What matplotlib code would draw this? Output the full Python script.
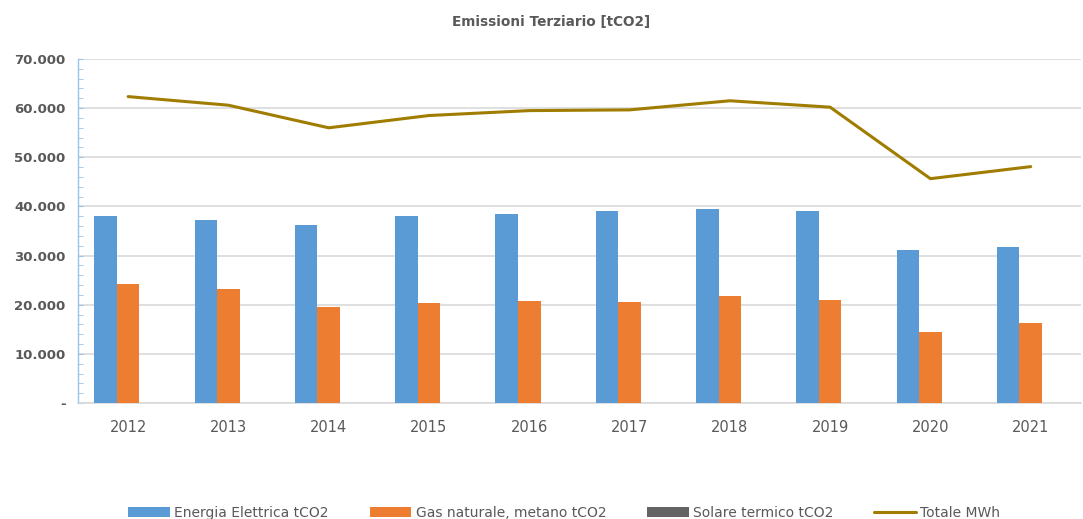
import numpy as np
import matplotlib
matplotlib.use("Agg")
import matplotlib.pyplot as plt
from matplotlib.ticker import MultipleLocator, FuncFormatter

# data
anni = ["2012", "2013", "2014", "2015", "2016", "2017", "2018", "2019", "2020", "2021"]
energia_elettrica = [38100, 37200, 36200, 38000, 38400, 39050, 39500, 39050, 31150, 31750]
gas_naturale = [24250, 23200, 19550, 20350, 20750, 20550, 21800, 20950, 14450, 16300]
solare_termico = [0, 0, 0, 0, 0, 0, 0, 0, 0, 0]
totale = [62350, 60600, 56000, 58500, 59500, 59650, 61500, 60200, 45650, 48100]

serie_nomi = ["Energia Elettrica tCO2", "Gas naturale, metano tCO2",
              "Solare termico tCO2", "Totale MWh"]
colori = ["#5b9bd5", "#ed7d31", "#636363", "#a07d00"]

fig = plt.figure(figsize=(10.83, 5.19), dpi=100)
ax = fig.add_axes([0.072, 0.2235, 0.926, 0.6628])

x = np.arange(len(anni))
w = 0.225
b1 = ax.bar(x - w, energia_elettrica, w, color=colori[0], zorder=3)
b2 = ax.bar(x, gas_naturale, w, color=colori[1], zorder=3)
b3 = ax.bar(x + w, solare_termico, w, color=colori[2], zorder=3)
l1, = ax.plot(x, totale, color=colori[3], lw=2.2, zorder=4,
              solid_capstyle="round", solid_joinstyle="round")

ax.set_xlim(-0.5, len(anni) - 0.5)
ax.set_ylim(0, 70000)
ax.yaxis.set_major_locator(MultipleLocator(10000))
ax.yaxis.set_minor_locator(MultipleLocator(2000))


def fmt_migliaia(v, pos):
    if v == 0:
        return "-"
    return f"{int(v):,}".replace(",", ".")


ax.yaxis.set_major_formatter(FuncFormatter(fmt_migliaia))
ax.grid(axis="y", color="#d9d9d9", lw=1.2, zorder=0)
ax.set_axisbelow(True)

for s in ["top", "right"]:
    ax.spines[s].set_visible(False)
ax.spines["left"].set_color("#9dc3e6")
ax.spines["left"].set_linewidth(1.0)
ax.spines["bottom"].set_color("#d9d9d9")
ax.spines["bottom"].set_linewidth(1.2)

ax.tick_params(axis="y", which="both", direction="in", length=3.5,
               color="#9dc3e6", labelcolor="#595959", labelsize=9.5, pad=9)
for t in ax.get_yticklabels():
    t.set_fontweight("bold")
ax.set_xticks(x)
ax.set_xticklabels(anni)
ax.tick_params(axis="x", length=0, labelcolor="#595959", labelsize=10.5, pad=12)

fig.text(0.509, 0.957, "Emissioni Terziario [tCO2]", ha="center", va="center",
         fontsize=9.8, fontweight="bold", color="#595959")

fig.legend([b1, b2, b3, l1], serie_nomi, loc="center", ncol=4,
           bbox_to_anchor=(0.521, 0.012), frameon=False, fontsize=10,
           labelcolor="#595959", handlelength=3.0, handleheight=0.7,
           handletextpad=0.3, columnspacing=2.95)

fig.savefig("out.png", dpi=100)
